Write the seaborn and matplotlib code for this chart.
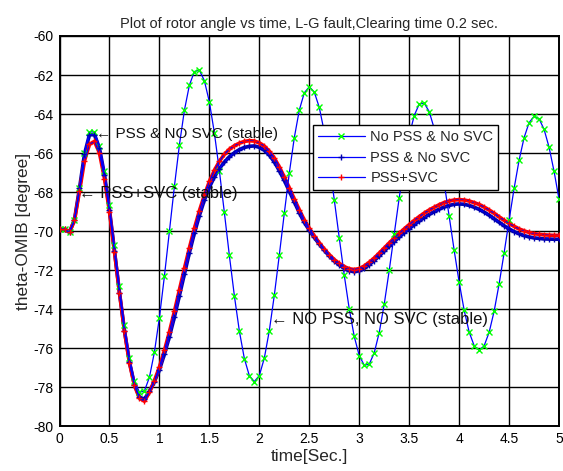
import numpy as np
import pandas as pd
import matplotlib
matplotlib.use("Agg")
import matplotlib.pyplot as plt
from matplotlib.lines import Line2D
import seaborn as sns

# Simulation time base (s)
time = np.linspace(0.0, 5.0, 101)

# Rotor angle (degrees) for the three controller configurations
no_pss_no_svc = [
    -69.90, -69.90, -70.05, -69.41, -67.80, -66.01, -64.90, -64.92, -65.64, -66.93,
    -68.67, -70.70, -72.81, -74.80, -76.47, -77.66, -78.25, -78.18, -77.48, -76.19,
    -74.42, -72.30, -70.00, -67.70, -65.58, -63.81, -62.52, -61.82, -61.75, -62.29,
    -63.38, -64.96, -66.90, -69.04, -71.24, -73.30, -75.11, -76.52, -77.40, -77.70,
    -77.39, -76.50, -75.09, -73.28, -71.22, -69.08, -67.02, -65.21, -63.80, -62.91,
    -62.60, -62.87, -63.66, -64.91, -66.52, -68.38, -70.34, -72.25, -73.98, -75.39,
    -76.37, -76.86, -76.81, -76.23, -75.19, -73.74, -72.01, -70.15, -68.29, -66.56,
    -65.11, -64.08, -63.49, -63.44, -63.87, -64.73, -65.99, -67.53, -69.23, -70.97,
    -72.61, -74.04, -75.16, -75.86, -76.10, -75.87, -75.18, -74.10, -72.70, -71.11,
    -69.43, -67.81, -66.36, -65.21, -64.44, -64.11, -64.24, -64.78, -65.70, -66.93,
    -68.37,
]
pss_no_svc = [
    -69.90, -69.90, -70.05, -69.40, -67.80, -66.05, -65.05, -65.05, -65.75, -67.10,
    -68.90, -71.00, -73.15, -75.10, -76.70, -77.85, -78.50, -78.60, -78.20, -77.70,
    -77.10, -76.30, -75.40, -74.40, -73.30, -72.20, -71.10, -70.10, -69.20, -68.40,
    -67.75, -67.22, -66.80, -66.46, -66.19, -65.98, -65.82, -65.71, -65.65, -65.63,
    -65.70, -65.85, -66.10, -66.45, -66.90, -67.40, -67.95, -68.50, -69.05, -69.55,
    -69.95, -70.32, -70.66, -70.98, -71.27, -71.52, -71.73, -71.90, -72.02, -72.07,
    -72.02, -71.90, -71.72, -71.50, -71.27, -71.02, -70.77, -70.53, -70.30, -70.08,
    -69.87, -69.67, -69.48, -69.30, -69.14, -69.00, -68.87, -68.76, -68.68, -68.62,
    -68.60, -68.62, -68.68, -68.77, -68.88, -69.02, -69.18, -69.36, -69.54, -69.72,
    -69.88, -70.02, -70.13, -70.22, -70.29, -70.34, -70.37, -70.39, -70.40, -70.41,
    -70.41,
]
pss_svc = [
    -69.90, -69.90, -70.05, -69.45, -67.95, -66.40, -65.55, -65.40, -66.00, -67.30,
    -69.00, -71.05, -73.15, -75.10, -76.75, -77.90, -78.55, -78.70, -78.25, -77.65,
    -76.95, -76.10, -75.15, -74.10, -73.00, -71.90, -70.85, -69.85, -68.95, -68.15,
    -67.45, -66.88, -66.42, -66.06, -65.80, -65.62, -65.49, -65.40, -65.36, -65.38,
    -65.47, -65.64, -65.90, -66.25, -66.70, -67.22, -67.78, -68.35, -68.90, -69.42,
    -69.85, -70.24, -70.59, -70.91, -71.20, -71.45, -71.65, -71.81, -71.92, -71.96,
    -71.91, -71.78, -71.59, -71.37, -71.12, -70.86, -70.60, -70.35, -70.11, -69.88,
    -69.66, -69.45, -69.25, -69.07, -68.91, -68.77, -68.64, -68.53, -68.45, -68.40,
    -68.38, -68.40, -68.45, -68.53, -68.63, -68.76, -68.91, -69.08, -69.26, -69.44,
    -69.60, -69.75, -69.88, -69.98, -70.06, -70.12, -70.16, -70.18, -70.20, -70.21,
    -70.21,
]

series_names = ["No PSS & No SVC", "PSS & No SVC", "PSS+SVC"]
marker_colors = ["#00ff00", "#0000b0", "#ff0000"]
marker_styles = ["x", "+", "+"]

x_ticks = [0, 0.5, 1, 1.5, 2, 2.5, 3, 3.5, 4, 4.5, 5]
x_tick_labels = ["0", "0.5", "1", "1.5", "2", "2.5", "3", "3.5", "4", "4.5", "5"]
y_ticks = list(range(-80, -59, 2))

df = pd.DataFrame({
    "time": np.tile(time, 3),
    "angle": np.concatenate([no_pss_no_svc, pss_no_svc, pss_svc]),
    "case": np.repeat(series_names, len(time)),
})

sns.set_style("white")
plt.rcParams["font.family"] = ["Liberation Sans", "DejaVu Sans"]

fig = plt.figure(figsize=(5.63, 4.71), dpi=100)
ax = fig.add_axes([0.1057, 0.0945, 0.8873, 0.8291])

# Dense marker bands under the two PSS cases
for name, mc in zip(series_names[1:], marker_colors[1:]):
    sub = df[df["case"] == name]
    sns.lineplot(data=sub, x="time", y="angle", ax=ax, color=mc, lw=2.6,
                 estimator=None, legend=False, zorder=3)

# Blue traces with their markers
for i, (name, mc, ms) in enumerate(zip(series_names, marker_colors, marker_styles)):
    sub = df[df["case"] == name]
    sns.lineplot(data=sub, x="time", y="angle", ax=ax, color="#0000ff", lw=0.9,
                 marker=ms, markersize=4.0, markeredgecolor=mc, markerfacecolor=mc,
                 markeredgewidth=1.0, estimator=None, legend=False, zorder=4 + i)

ax.set_xlim(0, 5)
ax.set_ylim(-80, -60)
ax.set_xticks(x_ticks)
ax.set_xticklabels(x_tick_labels)
ax.set_yticks(y_ticks)
ax.set_yticklabels([str(v) for v in y_ticks])
ax.tick_params(axis="both", direction="in", length=4, width=1, labelsize=10,
               pad=4, colors="black")
ax.grid(True, color="black", lw=1.0, ls="-")
ax.set_axisbelow(True)
for sp in ax.spines.values():
    sp.set_visible(True)
    sp.set_color("black")
    sp.set_linewidth(1.4)

ax.set_title("Plot of rotor angle vs time, L-G fault,Clearing time 0.2 sec.",
             fontsize=10.5, pad=6)
ax.set_xlabel("time[Sec.]", fontsize=12.5, labelpad=2)
ax.set_ylabel("theta-OMIB [degree]", fontsize=12.5, labelpad=2)

ann_kw = dict(ha="left", va="center", color="#111111", zorder=10)
ax.text(0.365, -65.0, "\u2190 PSS & NO SVC (stable)", fontsize=11, **ann_kw)
ax.text(0.20, -68.05, "\u2190 PSS+SVC (stable)", fontsize=12, **ann_kw)
ax.text(2.12, -74.5, "\u2190 NO PSS, NO SVC (stable)", fontsize=12, **ann_kw)

handles = [
    Line2D([], [], color="#0000ff", lw=0.9, marker=ms, markersize=4.0,
           markeredgecolor=mc, markerfacecolor=mc, markeredgewidth=1.0)
    for mc, ms in zip(marker_colors, marker_styles)
]
leg = ax.legend(handles, series_names, loc="upper left",
                bbox_to_anchor=(0.507, 0.772), fontsize=10.5, frameon=True,
                fancybox=False, edgecolor="black", framealpha=1.0,
                handlelength=3.2, handletextpad=0.4, borderpad=0.35,
                labelspacing=0.45, borderaxespad=0.0)
leg.get_frame().set_linewidth(1.0)
leg.set_zorder(20)

fig.savefig("out.png", dpi=100)
